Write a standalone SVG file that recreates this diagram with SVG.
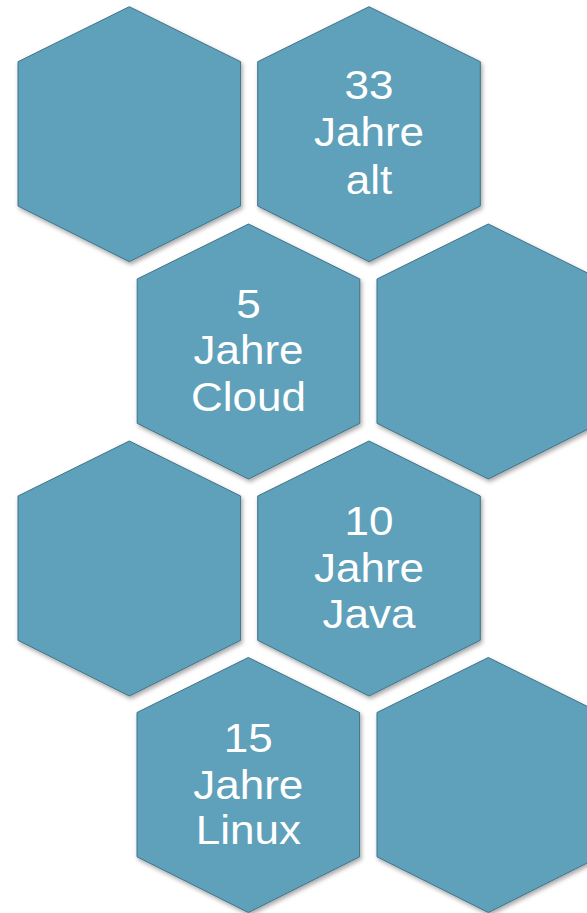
<svg xmlns="http://www.w3.org/2000/svg" xmlns:xlink="http://www.w3.org/1999/xlink" width="587" height="913" viewBox="0 0 587 913">
  <style>
    .hex { fill: #5ea1bb; stroke: #3f7388; stroke-width: 1; filter: url(#shadow); }
    .lbl { font-family: "Liberation Sans", Arial, sans-serif; font-size: 40px; fill: #ffffff; text-anchor: middle; }
  </style>
  <defs>
    <filter id="shadow" x="-10%" y="-10%" width="125%" height="125%">
      <feDropShadow dx="1.5" dy="2.5" stdDeviation="2" flood-color="#000000" flood-opacity="0.35"/>
    </filter>
    <polygon id="hex" points="0,0 111.3,55 111.3,199.3 0,255 -111.3,199.3 -111.3,55"/>
  </defs>
  <rect width="587" height="913" fill="#ffffff"/>
  <g id="connectors"/>
  <g id="hex1"><use href="#hex" class="hex" x="129.3" y="6.7"/></g>
  <g id="hex2"><use href="#hex" class="hex" x="369" y="6.7"/>
    <g class="lbl">
      <text transform="translate(369,99.3) scale(1.1,1)">33</text>
      <text transform="translate(369,146.3) scale(1.1,1)">Jahre</text>
      <text transform="translate(369,194.3) scale(1.1,1)">alt</text>
    </g>
  </g>
  <g id="hex3"><use href="#hex" class="hex" x="248.5" y="224"/>
    <g class="lbl">
      <text transform="translate(248.5,317.7) scale(1.1,1)">5</text>
      <text transform="translate(248.5,363.7) scale(1.1,1)">Jahre</text>
      <text transform="translate(248.5,411) scale(1.1,1)">Cloud</text>
    </g>
  </g>
  <g id="hex4"><use href="#hex" class="hex" x="488.3" y="224"/></g>
  <g id="hex5"><use href="#hex" class="hex" x="129.3" y="441"/></g>
  <g id="hex6"><use href="#hex" class="hex" x="369" y="441"/>
    <g class="lbl">
      <text transform="translate(369,535) scale(1.1,1)">10</text>
      <text transform="translate(369,581.7) scale(1.1,1)">Jahre</text>
      <text transform="translate(369,628.3) scale(1.1,1)">Java</text>
    </g>
  </g>
  <g id="hex7"><use href="#hex" class="hex" x="248.3" y="657.5"/>
    <g class="lbl">
      <text transform="translate(248.3,752.3) scale(1.1,1)">15</text>
      <text transform="translate(248.3,799.3) scale(1.1,1)">Jahre</text>
      <text transform="translate(248.3,844) scale(1.1,1)">Linux</text>
    </g>
  </g>
  <g id="hex8"><use href="#hex" class="hex" x="488.3" y="657.5"/></g>
</svg>
